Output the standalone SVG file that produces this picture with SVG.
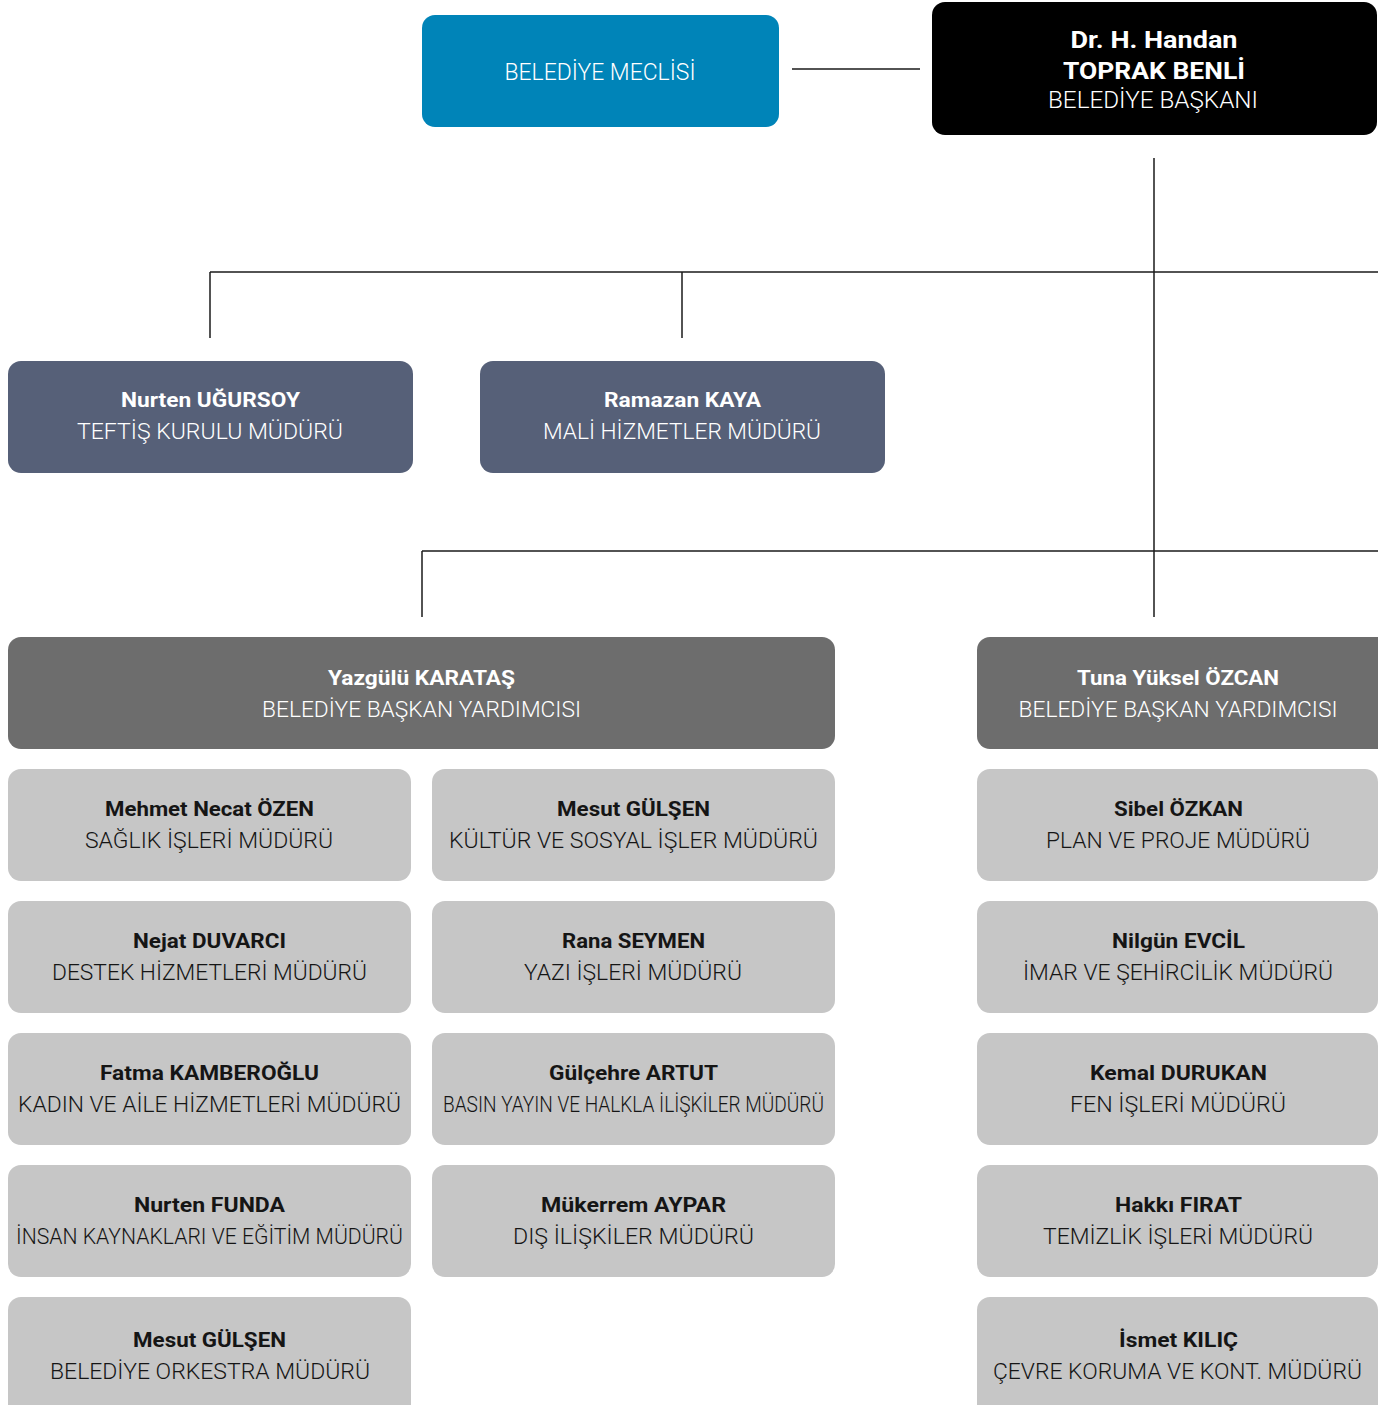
<svg xmlns="http://www.w3.org/2000/svg" width="1378" height="1405" viewBox="0 0 1378 1405">
<style>
.t{font-family:Roboto,"DejaVu Sans",sans-serif;text-anchor:middle}
.n{font-weight:700;font-size:21px}
.s{font-weight:300;font-size:22px}
.big{font-size:24px}
.w{fill:#ffffff}
.d{fill:#151515}
.blue{fill:#0084b8}
.pres{fill:#000000}
.slate{fill:#566078}
.vp{fill:#6d6d6d}
.dir{fill:#c6c6c6}
.c{stroke:#1a1a1a;stroke-width:1.5;fill:none}
</style>
<rect width="1378" height="1405" fill="#ffffff"/>
<g id="connectors">
<line class="c" x1="792" y1="69" x2="920" y2="69" stroke="#555"/>
<line class="c" x1="1154" y1="158" x2="1154" y2="617"/>
<line class="c" x1="210" y1="272" x2="1378" y2="272"/>
<line class="c" x1="210" y1="272" x2="210" y2="338"/>
<line class="c" x1="682" y1="272" x2="682" y2="338"/>
<line class="c" x1="422" y1="551" x2="1378" y2="551"/>
<line class="c" x1="422" y1="551" x2="422" y2="617"/>
</g>
<g id="meclis">
<rect class="blue" x="422" y="15" width="357" height="112" rx="13"/>
<text class="t s w" x="600" y="80" style="font-size:23px" textLength="191" lengthAdjust="spacingAndGlyphs">BELEDİYE MECLİSİ</text>
</g>
<g id="baskan">
<rect class="pres" x="932" y="2" width="445" height="133" rx="13"/>
<text class="t n w big" x="1154" y="48" textLength="167" lengthAdjust="spacingAndGlyphs">Dr. H. Handan</text>
<text class="t n w big" x="1154" y="79" textLength="182" lengthAdjust="spacingAndGlyphs">TOPRAK BENLİ</text>
<text class="t s w big" x="1153" y="108" textLength="210" lengthAdjust="spacingAndGlyphs">BELEDİYE BAŞKANI</text>
</g>
<g id="ugursoy">
<rect class="slate" x="8" y="361" width="405" height="112" rx="13"/>
<text class="t n w" x="210.5" y="407" textLength="179" lengthAdjust="spacingAndGlyphs">Nurten UĞURSOY</text>
<text class="t s w" x="210" y="439" textLength="266" lengthAdjust="spacingAndGlyphs">TEFTİŞ KURULU MÜDÜRÜ</text>
</g>
<g id="kaya">
<rect class="slate" x="480" y="361" width="405" height="112" rx="13"/>
<text class="t n w" x="682.5" y="407" textLength="157" lengthAdjust="spacingAndGlyphs">Ramazan KAYA</text>
<text class="t s w" x="682" y="439" textLength="278" lengthAdjust="spacingAndGlyphs">MALİ HİZMETLER MÜDÜRÜ</text>
</g>
<g id="karatas">
<rect class="vp" x="8" y="637" width="827" height="112" rx="13"/>
<text class="t n w" x="421.5" y="685" textLength="187" lengthAdjust="spacingAndGlyphs">Yazgülü KARATAŞ</text>
<text class="t s w" x="421.5" y="717" textLength="319" lengthAdjust="spacingAndGlyphs">BELEDİYE BAŞKAN YARDIMCISI</text>
</g>
<g id="ozcan">
<rect class="vp" x="977" y="637" width="420" height="112" rx="13"/>
<text class="t n w" x="1178" y="685" textLength="202" lengthAdjust="spacingAndGlyphs">Tuna Yüksel ÖZCAN</text>
<text class="t s w" x="1178" y="717" textLength="319" lengthAdjust="spacingAndGlyphs">BELEDİYE BAŞKAN YARDIMCISI</text>
</g>
<g id="ozen">
<rect class="dir" x="8" y="769" width="403" height="112" rx="13"/>
<text class="t n d" x="209.5" y="816" textLength="209" lengthAdjust="spacingAndGlyphs">Mehmet Necat ÖZEN</text>
<text class="t s d" x="209" y="848" textLength="248" lengthAdjust="spacingAndGlyphs">SAĞLIK İŞLERİ MÜDÜRÜ</text>
</g>
<g id="gulsen1">
<rect class="dir" x="432" y="769" width="403" height="112" rx="13"/>
<text class="t n d" x="633.5" y="816" textLength="153" lengthAdjust="spacingAndGlyphs">Mesut GÜLŞEN</text>
<text class="t s d" x="633.5" y="848" textLength="369" lengthAdjust="spacingAndGlyphs">KÜLTÜR VE SOSYAL İŞLER MÜDÜRÜ</text>
</g>
<g id="ozkan">
<rect class="dir" x="977" y="769" width="401" height="112" rx="13"/>
<text class="t n d" x="1178.5" y="816" textLength="129" lengthAdjust="spacingAndGlyphs">Sibel ÖZKAN</text>
<text class="t s d" x="1178" y="848" textLength="264" lengthAdjust="spacingAndGlyphs">PLAN VE PROJE MÜDÜRÜ</text>
</g>
<g id="duvarci">
<rect class="dir" x="8" y="901" width="403" height="112" rx="13"/>
<text class="t n d" x="209.5" y="948" textLength="153" lengthAdjust="spacingAndGlyphs">Nejat DUVARCI</text>
<text class="t s d" x="209.5" y="980" textLength="315" lengthAdjust="spacingAndGlyphs">DESTEK HİZMETLERİ MÜDÜRÜ</text>
</g>
<g id="seymen">
<rect class="dir" x="432" y="901" width="403" height="112" rx="13"/>
<text class="t n d" x="633.5" y="948" textLength="143" lengthAdjust="spacingAndGlyphs">Rana SEYMEN</text>
<text class="t s d" x="633" y="980" textLength="218" lengthAdjust="spacingAndGlyphs">YAZI İŞLERİ MÜDÜRÜ</text>
</g>
<g id="evcil">
<rect class="dir" x="977" y="901" width="401" height="112" rx="13"/>
<text class="t n d" x="1178.5" y="948" textLength="133" lengthAdjust="spacingAndGlyphs">Nilgün EVCİL</text>
<text class="t s d" x="1178" y="980" textLength="310" lengthAdjust="spacingAndGlyphs">İMAR VE ŞEHİRCİLİK MÜDÜRÜ</text>
</g>
<g id="kamberoglu">
<rect class="dir" x="8" y="1033" width="403" height="112" rx="13"/>
<text class="t n d" x="209.5" y="1080" textLength="219" lengthAdjust="spacingAndGlyphs">Fatma KAMBEROĞLU</text>
<text class="t s d" x="209.5" y="1112" textLength="383" lengthAdjust="spacingAndGlyphs">KADIN VE AİLE HİZMETLERİ MÜDÜRÜ</text>
</g>
<g id="artut">
<rect class="dir" x="432" y="1033" width="403" height="112" rx="13"/>
<text class="t n d" x="633.5" y="1080" textLength="169" lengthAdjust="spacingAndGlyphs">Gülçehre ARTUT</text>
<text class="t s d" x="633.5" y="1112" textLength="381" lengthAdjust="spacingAndGlyphs">BASIN YAYIN VE HALKLA İLİŞKİLER MÜDÜRÜ</text>
</g>
<g id="durukan">
<rect class="dir" x="977" y="1033" width="401" height="112" rx="13"/>
<text class="t n d" x="1178.5" y="1080" textLength="177" lengthAdjust="spacingAndGlyphs">Kemal DURUKAN</text>
<text class="t s d" x="1178" y="1112" textLength="216" lengthAdjust="spacingAndGlyphs">FEN İŞLERİ MÜDÜRÜ</text>
</g>
<g id="funda">
<rect class="dir" x="8" y="1165" width="403" height="112" rx="13"/>
<text class="t n d" x="209.5" y="1212" textLength="151" lengthAdjust="spacingAndGlyphs">Nurten FUNDA</text>
<text class="t s d" x="209.5" y="1244" textLength="387" lengthAdjust="spacingAndGlyphs">İNSAN KAYNAKLARI VE EĞİTİM MÜDÜRÜ</text>
</g>
<g id="aypar">
<rect class="dir" x="432" y="1165" width="403" height="112" rx="13"/>
<text class="t n d" x="633.5" y="1212" textLength="185" lengthAdjust="spacingAndGlyphs">Mükerrem AYPAR</text>
<text class="t s d" x="633.5" y="1244" textLength="241" lengthAdjust="spacingAndGlyphs">DIŞ İLİŞKİLER MÜDÜRÜ</text>
</g>
<g id="firat">
<rect class="dir" x="977" y="1165" width="401" height="112" rx="13"/>
<text class="t n d" x="1178.5" y="1212" textLength="127" lengthAdjust="spacingAndGlyphs">Hakkı FIRAT</text>
<text class="t s d" x="1178" y="1244" textLength="270" lengthAdjust="spacingAndGlyphs">TEMİZLİK İŞLERİ MÜDÜRÜ</text>
</g>
<g id="gulsen2">
<rect class="dir" x="8" y="1297" width="403" height="125" rx="13"/>
<text class="t n d" x="209.5" y="1347" textLength="153" lengthAdjust="spacingAndGlyphs">Mesut GÜLŞEN</text>
<text class="t s d" x="210" y="1379" textLength="320" lengthAdjust="spacingAndGlyphs">BELEDİYE ORKESTRA MÜDÜRÜ</text>
</g>
<g id="kilic">
<rect class="dir" x="977" y="1297" width="401" height="125" rx="13"/>
<text class="t n d" x="1178.5" y="1347" textLength="119" lengthAdjust="spacingAndGlyphs">İsmet KILIÇ</text>
<text class="t s d" x="1177.5" y="1379" textLength="369" lengthAdjust="spacingAndGlyphs">ÇEVRE KORUMA VE KONT. MÜDÜRÜ</text>
</g>
</svg>
